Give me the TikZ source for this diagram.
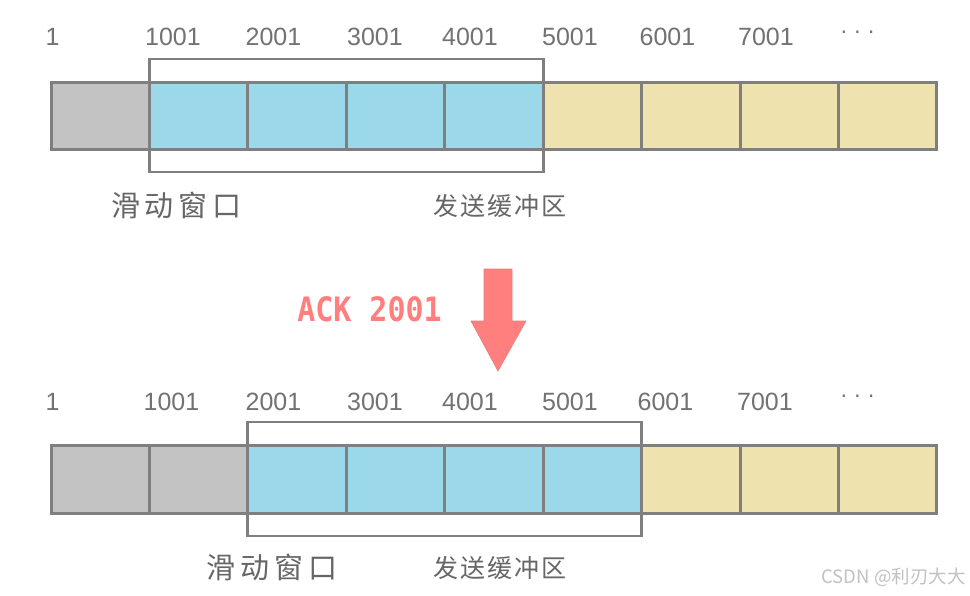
\documentclass[tikz,border=0pt]{standalone}
\usepackage{fontspec}
\setmainfont{Liberation Sans}
\newfontfamily\cjkfont{Noto Sans CJK SC}
\newfontfamily\ackfont{DejaVu Sans Mono Bold}
\definecolor{cgray}{HTML}{C3C3C3}
\definecolor{cblue}{HTML}{9BD8EA}
\definecolor{cyellow}{HTML}{EEE2AF}
\definecolor{linegray}{HTML}{7F7F7F}
\definecolor{labgray}{HTML}{727272}
\definecolor{cjkgray}{HTML}{666666}
\definecolor{ackred}{HTML}{FF7F7F}
\definecolor{wmgray}{HTML}{C2C2C2}
\tikzset{
  cellbox/.style={draw=linegray, line width=3pt, inner sep=0pt, minimum width=98.44pt},
  winbox/.style={draw=linegray, line width=2.8pt, inner sep=0pt},
  numlab/.style={inner sep=0pt, text=labgray, font=\fontsize{25}{25}\selectfont},
  bigcjk/.style={inner sep=0pt, text=cjkgray, font=\cjkfont\fontsize{29}{29}\selectfont},
  smallcjk/.style={inner sep=0pt, text=cjkgray, font=\cjkfont\fontsize{25}{25}\selectfont},
}
\begin{document}
\begin{tikzpicture}[x=1pt,y=-1pt]
\useasboundingbox[fill=white] (0,0) rectangle (970,595);
% top row
\foreach \i/\c in {0/cgray,1/cblue,2/cblue,3/cblue,4/cblue,5/cyellow,6/cyellow,7/cyellow,8/cyellow}{
  \node[cellbox, fill=\c, minimum height=67pt] (top\i) at ({51+98.44*(\i+0.5)},115.5) {};
}
\node[winbox, minimum width=393.8pt, minimum height=113pt] (topwin) at (346.3,115.5) {};
% bottom row
\foreach \i/\c in {0/cgray,1/cgray,2/cblue,3/cblue,4/cblue,5/cblue,6/cyellow,7/cyellow,8/cyellow}{
  \node[cellbox, fill=\c, minimum height=68pt] (bot\i) at ({51+98.44*(\i+0.5)},479) {};
}
\node[winbox, minimum width=393.8pt, minimum height=114pt] (botwin) at (444.75,479) {};
% top labels
\node[numlab] (tl0) at (52.5,37) {1};
\node[numlab] (tl1) at (173,37) {1001};
\node[numlab] (tl2) at (273.5,37) {2001};
\node[numlab] (tl3) at (375,37) {3001};
\node[numlab] (tl4) at (470,37) {4001};
\node[numlab] (tl5) at (570,37) {5001};
\node[numlab] (tl6) at (667.5,37) {6001};
\node[numlab] (tl7) at (766,37) {7001};
\node[numlab, font=\fontsize{23}{23}\selectfont] (tl8) at (857.5,35) {·\hspace{6pt}·\hspace{6pt}·};
% bottom labels
\node[numlab] (bl0) at (52.5,401.5) {1};
\node[numlab] (bl1) at (171.5,401.5) {1001};
\node[numlab] (bl2) at (273.5,401.5) {2001};
\node[numlab] (bl3) at (375,401.5) {3001};
\node[numlab] (bl4) at (470,401.5) {4001};
\node[numlab] (bl5) at (570,401.5) {5001};
\node[numlab] (bl6) at (665.5,401.5) {6001};
\node[numlab] (bl7) at (765,401.5) {7001};
\node[numlab, font=\fontsize{23}{23}\selectfont] (bl8) at (857.5,399) {·\hspace{6pt}·\hspace{6pt}·};
% chinese captions
\node[bigcjk] (tslide) at (176.5,205) {滑\hspace{5pt}动\hspace{5pt}窗\hspace{5pt}口};
\node[smallcjk] (tbuf) at (500,206) {发\hspace{2pt}送\hspace{2pt}缓\hspace{2pt}冲\hspace{2pt}区};
\node[bigcjk] (bslide) at (272,567) {滑\hspace{5pt}动\hspace{5pt}窗\hspace{5pt}口};
\node[smallcjk] (bbuf) at (500,568) {发\hspace{2pt}送\hspace{2pt}缓\hspace{2pt}冲\hspace{2pt}区};
% ACK label and arrow
\node[inner sep=0pt, text=ackred, font=\ackfont\fontsize{30}{30}\selectfont] (ack) at (369.5,309.5) {\scalebox{1}[1.12]{ACK 2001}};
\draw[fill=ackred, draw=ackred!80!gray, line width=0.6pt]
  (484,269) -- (512,269) -- (512,321) -- (526,321) -- (498,371) -- (471,321) -- (484,321) -- cycle;
% watermark
\node[inner sep=0pt, text=wmgray, font=\cjkfont\fontsize{18.5}{18.5}\selectfont] (wm) at (893.5,577) {CSDN @利刃大大};
\end{tikzpicture}
\end{document}
